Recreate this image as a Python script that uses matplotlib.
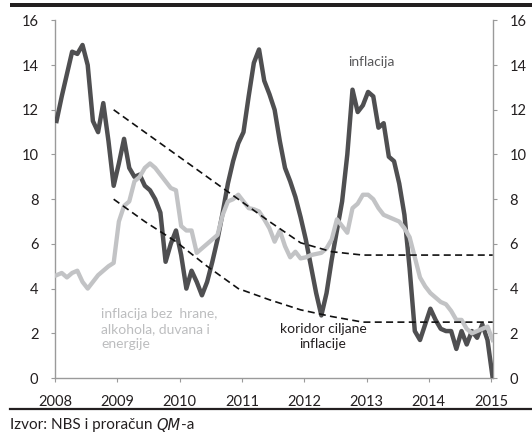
import matplotlib
matplotlib.use("Agg")
import matplotlib.pyplot as plt
from matplotlib.patches import Rectangle
import numpy as np

plt.rcParams['font.family'] = ['Lato', 'DejaVu Sans']
plt.rcParams['savefig.bbox'] = 'standard'

# monthly values, Jan 2008 .. Jan 2015
inflacija = [11.5, 12.6, 13.6, 14.6, 14.5, 14.9, 14.0, 11.5, 11.0, 12.3, 10.6, 8.6,
             9.6, 10.7, 9.4, 9.0, 9.1, 8.6, 8.4, 8.0, 7.4, 5.2, 6.0, 6.6,
             5.5, 4.0, 4.8, 4.3, 3.7, 4.3, 5.2, 6.2, 7.4, 8.7, 9.7, 10.5,
             11.0, 12.6, 14.1, 14.7, 13.3, 12.7, 12.0, 10.6, 9.4, 8.8, 8.1, 7.2,
             6.2, 5.0, 3.8, 2.8, 3.8, 5.3, 6.6, 7.9, 10.0, 12.9, 11.9, 12.2,
             12.8, 12.6, 11.2, 11.4, 9.9, 9.7, 8.7, 7.3, 4.9, 2.1, 1.7, 2.4,
             3.1, 2.6, 2.2, 2.1, 2.1, 1.3, 2.1, 1.5, 2.1, 1.8, 2.4, 1.7,
             0.0]
bazna = [4.6, 4.7, 4.5, 4.7, 4.8, 4.3, 4.0, 4.3, 4.6, 4.8, 5.0, 5.15,
         7.0, 7.7, 7.9, 8.8, 9.0, 9.4, 9.6, 9.4, 9.1, 8.8, 8.5, 8.4,
         6.8, 6.6, 6.6, 5.6, 5.8, 6.0, 6.2, 6.4, 7.3, 7.9, 8.0, 8.2,
         7.9, 7.6, 7.55, 7.45, 7.1, 6.7, 6.1, 6.6, 5.9, 5.4, 5.65, 5.35,
         5.4, 5.5, 5.55, 5.6, 5.8, 6.2, 7.1, 6.8, 6.5, 7.6, 7.8, 8.2,
         8.2, 8.0, 7.6, 7.3, 7.2, 7.1, 7.0, 6.7, 6.3, 5.4, 4.5, 4.1,
         3.8, 3.6, 3.4, 3.3, 3.0, 2.6, 2.6, 2.2, 2.0, 2.1, 2.2, 2.3,
         1.7]

# target corridor, read at a few months
kor_mesec = [11, 17, 23, 29, 35, 41, 47, 53, 59, 84]
kor_gornja = [12.0, 11.0, 10.0, 9.0, 8.0, 7.0, 6.05, 5.65, 5.5, 5.5]
kor_donja = [8.0, 7.0, 6.1, 5.0, 4.0, 3.5, 3.05, 2.75, 2.5, 2.5]

godine = [2008, 2009, 2010, 2011, 2012, 2013, 2014, 2015]
y_ticks = [0, 2, 4, 6, 8, 10, 12, 14, 16]

x = 2008 + (np.arange(len(inflacija)) + 0.3) / 12
x_kor = 2008 + (np.array(kor_mesec) + 0.3) / 12

fig = plt.figure(figsize=(5.32, 4.36), dpi=100)
ax = fig.add_axes([55 / 532, 1 - 378 / 436, 438 / 532, 357.6 / 436])

ax.plot(x, inflacija, color='#4f4f51', lw=3.2, zorder=3)
ax.plot(x, bazna, color='#c2c3c5', lw=3.1, zorder=4)
ax.plot(x_kor, kor_gornja, color='#111111', lw=1.2, ls=(0, (4.2, 2.6)), zorder=5)
ax.plot(x_kor, kor_donja, color='#111111', lw=1.2, ls=(0, (4.2, 2.6)), zorder=5)

ax.set_xlim(2008, 2015.03)
ax.set_ylim(0, 16)
ax.set_xticks(godine)
ax.set_yticks(y_ticks)

for s in ['left', 'right', 'bottom']:
    ax.spines[s].set_color('#9a9a9a')
    ax.spines[s].set_linewidth(1.0)
ax.spines['top'].set_visible(False)
ax.tick_params(axis='y', which='both', left=True, right=True, labelleft=True,
               labelright=True, direction='out', length=3, color='#9a9a9a',
               labelsize=10.5, labelcolor='#231f20', pad=9)
ax.tick_params(axis='x', direction='out', length=3, color='#9a9a9a',
               labelsize=10.5, labelcolor='#231f20', pad=9)

ax.text(2013.08, 14.15, 'inflacija', color='#58585a', fontsize=10, ha='center', va='center')
ax.text(2008.74, 2.2, 'inflacija bez  hrane,\nalkohola, duvana i\nenergije', color='#bcbdbf',
        fontsize=10, ha='left', va='center', linespacing=1.3)
ax.text(2012.3, 1.85, 'koridor ciljane\ninflacije', color='#231f20', fontsize=10,
        ha='center', va='center', linespacing=1.3)

# black bar at the top and rule above the source
fig.add_artist(Rectangle((10 / 532, 1 - 7 / 436), 530 / 532, 4.2 / 436,
                         transform=fig.transFigure, facecolor='#231f20',
                         edgecolor='none'))
fig.add_artist(plt.Line2D([10 / 532, 1], [1 - 408.5 / 436] * 2, color='#231f20', lw=1.6))

# source line with italic QM
renderer = fig.canvas.get_renderer()
y_src = 1 - 425 / 436
t1 = fig.text(10 / 532, y_src, 'Izvor: NBS i proračun ', fontsize=11, color='#231f20', va='center')
bb = t1.get_window_extent(renderer)
t2 = fig.text(bb.x1 / 532, y_src, 'QM', fontsize=10.5, color='#231f20', va='center',
              family='DejaVu Sans', style='italic')
bb2 = t2.get_window_extent(renderer)
fig.text(bb2.x1 / 532, y_src, '-a', fontsize=11, color='#231f20', va='center')

fig.savefig('out.png', dpi=100)
